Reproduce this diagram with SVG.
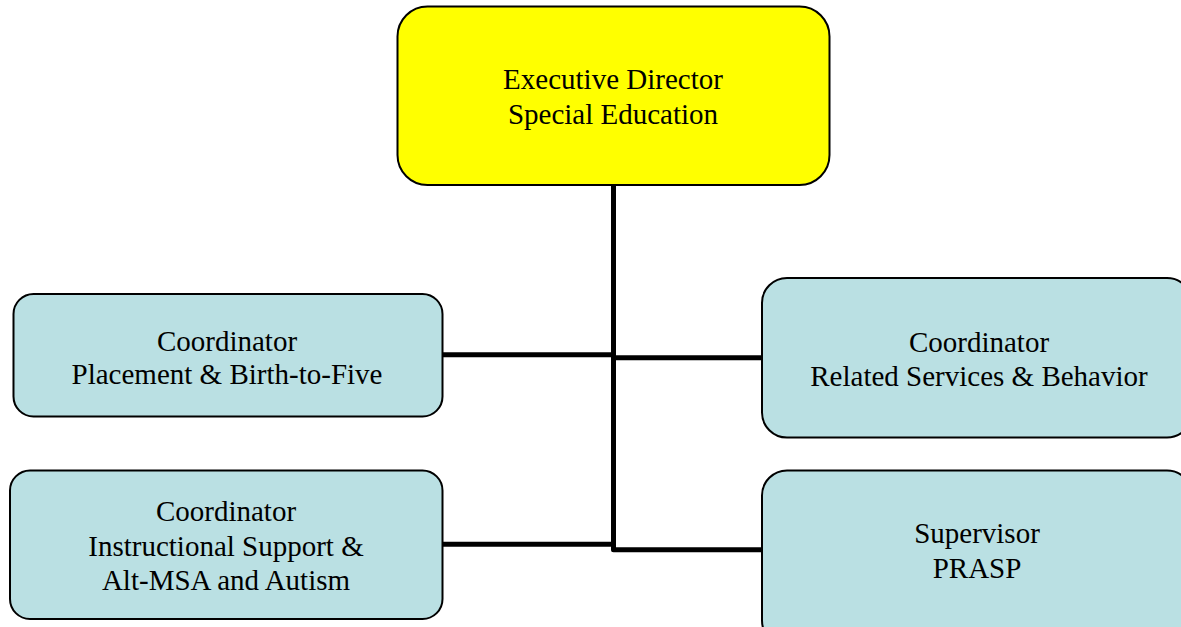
<svg xmlns="http://www.w3.org/2000/svg" width="1181" height="627" viewBox="0 0 1181 627">
<style>
.box{stroke:#000;stroke-width:2}
.blue{fill:#BAE0E3}
.yellow{fill:#FFFF00}
.t{font-family:"Liberation Serif","Times New Roman",serif;font-size:29px;fill:#000;text-anchor:middle}
.c{stroke:#000;stroke-width:5;fill:none;stroke-linejoin:round}
</style>
<rect width="1181" height="627" fill="#fff"/>
<g id="connectors">
<path class="c" d="M613.5,185 V549.8 H763"/>
<line class="c" x1="442" y1="354.8" x2="613.5" y2="354.8"/>
<line class="c" x1="613.5" y1="357.8" x2="763" y2="357.8"/>
<line class="c" x1="442" y1="544.2" x2="613.5" y2="544.2"/>
</g>
<g id="exec">
<rect class="box yellow" x="397.5" y="6.5" width="432" height="178.5" rx="30"/>
<text class="t" x="613" y="89">Executive Director</text>
<text class="t" x="613" y="124">Special Education</text>
</g>
<g id="placement">
<rect class="box blue" x="13.5" y="294" width="429" height="122.5" rx="20"/>
<text class="t" x="227" y="351">Coordinator</text>
<text class="t" x="227" y="384">Placement &amp; Birth-to-Five</text>
</g>
<g id="related">
<rect class="box blue" x="762" y="278" width="430" height="159.5" rx="25"/>
<text class="t" x="979" y="352">Coordinator</text>
<text class="t" x="979" y="386">Related Services &amp; Behavior</text>
</g>
<g id="instructional">
<rect class="box blue" x="10" y="470.5" width="432.5" height="148.5" rx="20"/>
<text class="t" x="226" y="521">Coordinator</text>
<text class="t" x="226" y="556">Instructional Support &amp;</text>
<text class="t" x="226" y="590">Alt-MSA and Autism</text>
</g>
<g id="prasp">
<rect class="box blue" x="762" y="470.5" width="430" height="175" rx="25"/>
<text class="t" x="977" y="543">Supervisor</text>
<text class="t" x="977" y="578">PRASP</text>
</g>
</svg>
